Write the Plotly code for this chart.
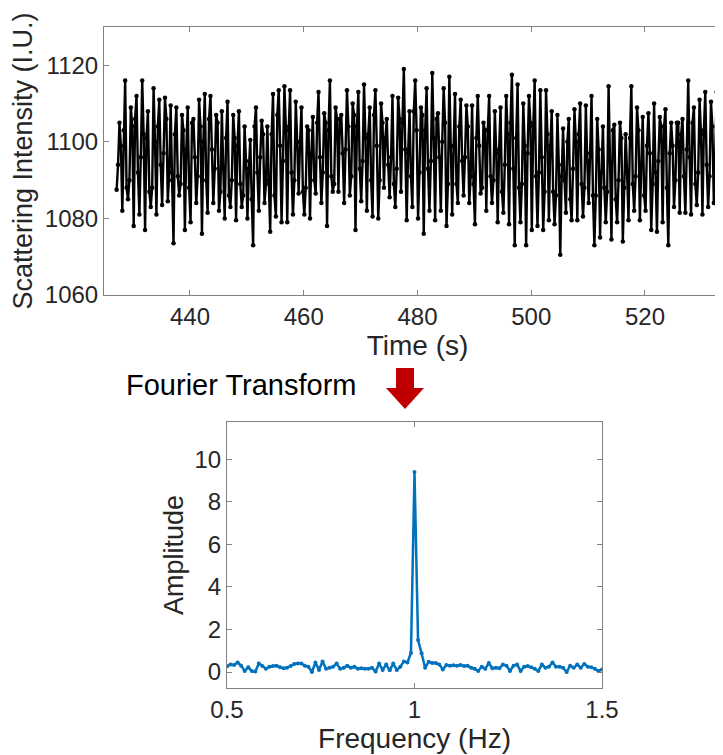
import numpy as np
import plotly.graph_objects as go

W, H = 723, 755

# ---- Time series: per-second readings of the 1 Hz oscillation (I.U.) ----
# each second: trough, rising point, peak, falling point
peak = [
    1105, 1116, 1109, 1112, 1116, 1108, 1114, 1111, 1111.5, 1109.5,
    1109, 1107, 1109, 1106, 1111, 1112.5, 1112, 1107, 1108, 1110.5,
    1107, 1108, 1104, 1100.5, 1109, 1105.5, 1104, 1112.5, 1113.5, 1114.5,
    1113.5, 1110.5, 1109, 1104, 1106.5, 1113, 1107.5, 1116, 1109, 1107,
    1113.5, 1110, 1113, 1115, 1109, 1113.5, 1110, 1106, 1112, 1111.5,
    1119, 1108, 1116, 1109, 1114, 1118, 1107.5, 1114, 1117, 1112.5,
    1111, 1109.5, 1109.5, 1112, 1105, 1112, 1108, 1109, 1112, 1117.5,
    1115, 1110, 1112, 1116, 1113.5, 1113.5, 1108, 1107, 1103.5, 1106,
    1108.5, 1110, 1109.5, 1112, 1106, 1104, 1114.5, 1104.5, 1105, 1102,
    1114.5, 1109, 1106.5, 1107.5, 1110, 1106.5, 1108.5, 1105, 1105, 1106,
    1116, 1109, 1111, 1113, 1110.5, 1113,
]
trough = [
    1087.5, 1082, 1085, 1078, 1081, 1077, 1083, 1081, 1083.5, 1084.5,
    1073.5, 1086, 1077, 1079, 1084, 1076, 1081.5, 1084, 1082, 1080,
    1083, 1079.5, 1083, 1080, 1073, 1082, 1084, 1076.5, 1080.5, 1079,
    1079, 1081, 1086.5, 1081, 1080, 1086.5, 1084, 1078, 1087, 1087,
    1084, 1086, 1077, 1084.5, 1082, 1080.5, 1080, 1088, 1085.5, 1083,
    1087, 1079.5, 1083, 1080, 1076, 1082, 1079.5, 1082, 1078, 1081,
    1084, 1086, 1084, 1078.5, 1086.5, 1082, 1084, 1079, 1081.5, 1078.5,
    1073, 1079, 1073, 1077, 1078, 1077, 1079.5, 1078.5, 1070.5, 1081.5,
    1079.5, 1079.5, 1080.5, 1084, 1073, 1075, 1079, 1074.5, 1079, 1074,
    1079.5, 1082, 1079.5, 1082, 1077, 1076.5, 1079, 1073, 1083, 1081.5,
    1081.5, 1081, 1083.5, 1081, 1083, 1084,
]
rise = [
    1094, 1103, 1090, 1106, 1096, 1101, 1088, 1104, 1097, 1092,
    1102, 1089, 1098, 1105, 1091, 1100, 1106, 1093, 1087, 1101,
    1090, 1099, 1086, 1093, 1104, 1096, 1089, 1102, 1107, 1095,
    1103, 1090, 1100, 1088, 1097, 1105, 1092, 1103, 1089, 1106,
    1098, 1091, 1104, 1095, 1102, 1107, 1090, 1101, 1096, 1093,
    1105, 1097, 1108, 1092, 1103, 1095, 1106, 1100, 1089, 1099,
    1104, 1096, 1091, 1101, 1088, 1103, 1090, 1098, 1094, 1105,
    1101, 1089, 1097, 1104, 1092, 1087, 1099, 1086, 1091, 1100,
    1093, 1102, 1088, 1097, 1086, 1092, 1087, 1103, 1090, 1088,
    1101, 1091, 1094, 1099, 1089, 1095, 1104, 1097, 1090, 1102,
    1098, 1105, 1092, 1103, 1091, 1097,
]
fall = [
    1099, 1088, 1104, 1092, 1102, 1087, 1100, 1094, 1106, 1090,
    1091, 1103, 1088, 1096, 1104, 1090, 1098, 1105, 1093, 1086,
    1101, 1089, 1095, 1085, 1092, 1102, 1090, 1086, 1099, 1104,
    1092, 1100, 1087, 1103, 1090, 1096, 1105, 1091, 1106, 1097,
    1104, 1107, 1093, 1101, 1090, 1099, 1105, 1094, 1089, 1106,
    1098, 1091, 1103, 1107, 1093, 1101, 1096, 1105, 1099, 1089,
    1095, 1104, 1089, 1099, 1103, 1091, 1097, 1087, 1102, 1093,
    1088, 1099, 1105, 1091, 1096, 1102, 1087, 1094, 1090, 1085,
    1100, 1089, 1095, 1086, 1098, 1088, 1095, 1085, 1101, 1092,
    1089, 1103, 1086, 1097, 1092, 1104, 1088, 1099, 1105, 1091,
    1096, 1089, 1102, 1094, 1104, 1100,
]
t_start = 427.1      # s
sample_step = 0.25   # s

# ---- Fourier transform amplitude, bins k/106 Hz for k = 53 ... 159 ----
record_length = 106.0
first_bin = 53
amplitude = [
    0.27, 0.35, 0.33, 0.45, 0.30, 0.05, 0.22, 0.05, 0.02, 0.40,
    0.28, 0.15, 0.25, 0.28, 0.30, 0.22, 0.18, 0.20, 0.28, 0.38,
    0.40, 0.40, 0.30, 0.25, 0.00, 0.45, 0.10, 0.50, 0.15, 0.20,
    0.25, 0.40, 0.15, 0.20, 0.30, 0.20, 0.25, 0.15, 0.18, 0.15,
    0.15, 0.20, 0.02, 0.40, 0.10, 0.35, 0.08, 0.40, 0.10, 0.25,
    0.50, 0.45, 0.90,
    9.40,
    1.50, 0.88, 0.20, 0.48, 0.42, 0.42, 0.35, 0.12, 0.33, 0.30,
    0.32, 0.30, 0.33, 0.28, 0.30, 0.20, 0.15, 0.05, 0.25, 0.15,
    0.42, 0.18, 0.20, 0.18, 0.35, 0.30, 0.05, 0.30, 0.35, 0.05,
    0.25, 0.28, 0.22, 0.15, 0.05, 0.35, 0.20, 0.25, 0.45, 0.25,
    0.25, 0.20, 0.00, 0.30, 0.20, 0.35, 0.20, 0.38, 0.25, 0.22,
    0.15, 0.05, 0.12,
]

time_ticks = [440, 460, 480, 500, 520]
intensity_ticks = [1060, 1080, 1100, 1120]
freq_ticks = [0.5, 1, 1.5]
freq_ticktext = ["0.5", "1", "1.5"]
amp_ticks = [0, 2, 4, 6, 8, 10]

# assemble series
intensity = []
for tr, r, p, f in zip(trough, rise, peak, fall):
    intensity += [tr, r, p, f]
time = t_start + sample_step * np.arange(len(intensity))
freq = (first_bin + np.arange(len(amplitude))) / record_length

FONT = "Liberation Sans, Arial, sans-serif"
TXT = "#262626"
AX = "#808080"
OFF = 8  # the page body adds an 8 px margin around the figure


def px(x):
    """page pixel x -> paper fraction"""
    return (x - OFF) / W


def py(y):
    """page pixel y -> paper fraction"""
    return 1 - (y - OFF) / H


fig = go.Figure()
fig.add_trace(go.Scatter(
    x=time, y=intensity, mode="lines+markers",
    line=dict(color="black", width=2.4),
    marker=dict(color="black", size=4.5),
    xaxis="x", yaxis="y", hoverinfo="skip"))
fig.add_trace(go.Scatter(
    x=freq, y=amplitude, mode="lines+markers",
    line=dict(color="#0072BD", width=2.5),
    marker=dict(color="#0072BD", size=4),
    xaxis="x2", yaxis="y2", hoverinfo="skip"))

axis_common = dict(showgrid=False, zeroline=False, showline=True, linecolor=AX,
                   linewidth=1, ticks="inside", ticklen=5, tickcolor=AX,
                   automargin=False,
                   tickfont=dict(size=24, color=TXT, family=FONT))

px_per_s = 5.6875
t_left = 424.88
t_right = t_left + (W - px(104) * W) / px_per_s

fig.update_layout(
    width=W, height=H, margin=dict(l=0, r=0, t=0, b=0),
    paper_bgcolor="white", plot_bgcolor="white", showlegend=False,
    font=dict(family=FONT, color=TXT),
    xaxis=dict(axis_common, domain=[px(104), 1.0], range=[t_left, t_right],
               tickvals=time_ticks, mirror="ticks", anchor="y",
               title=dict(text="Time (s)", font=dict(size=28, color=TXT), standoff=0)),
    yaxis=dict(axis_common, domain=[py(295), py(27)], range=[1060, 1130],
               tickvals=intensity_ticks, anchor="x",
               title=dict(text="Scattering Intensity (I.U.)", font=dict(size=27, color=TXT), standoff=4)),
    xaxis2=dict(axis_common, domain=[px(227), px(602)], range=[0.5, 1.5],
                tickvals=freq_ticks, ticktext=freq_ticktext, mirror="ticks", anchor="y2",
                title=dict(text="Frequency (Hz)", font=dict(size=28, color=TXT), standoff=0)),
    yaxis2=dict(axis_common, domain=[py(688), py(422)], range=[-0.75, 11.75],
                tickvals=amp_ticks, mirror="ticks", anchor="x2",
                title=dict(text="Amplitude", font=dict(size=27, color=TXT), standoff=3)),
)

fig.add_annotation(text="Fourier Transform", xref="paper", yref="paper",
                   x=px(124), y=py(385), xanchor="left", yanchor="middle",
                   showarrow=False, font=dict(size=29, color="black", family=FONT))

# red block arrow (decoration)
arrow = [(396, 368), (414, 368), (414, 388), (424, 388), (405, 409), (386, 388), (396, 388)]
path = "M " + " L ".join(f"{px(x):.5f},{py(y):.5f}" for x, y in arrow) + " Z"
fig.add_shape(type="path", path=path, xref="paper", yref="paper",
              fillcolor="#C00000", line=dict(width=0))

fig.write_html("out.html")
